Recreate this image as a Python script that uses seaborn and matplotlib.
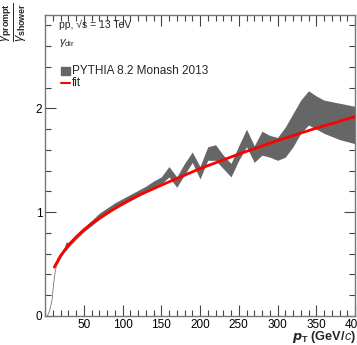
import numpy as np
import pandas as pd
import matplotlib
matplotlib.use("Agg")
import matplotlib.pyplot as plt
import seaborn as sns
from matplotlib.ticker import MultipleLocator, FixedLocator
from matplotlib.patches import Rectangle
from matplotlib.lines import Line2D

# ---- data ----
band_pt = [15, 20, 25, 27, 30, 40, 50, 60, 70, 80, 90, 100, 110, 120, 130, 140, 150,
           160, 170, 180, 190, 200, 210, 220, 230, 240, 250, 260, 270, 280, 290,
           300, 310, 320, 330, 340, 350, 360, 380, 400]
band_low = [0.49, 0.56, 0.62, 0.63, 0.66, 0.74, 0.81, 0.87, 0.93, 0.98, 1.03, 1.07, 1.11,
            1.15, 1.19, 1.23, 1.27, 1.34, 1.24, 1.36, 1.48, 1.32, 1.50, 1.50, 1.42, 1.34,
            1.50, 1.63, 1.48, 1.55, 1.53, 1.50, 1.53, 1.63, 1.76, 1.84, 1.80, 1.76, 1.70, 1.66]
band_high = [0.52, 0.60, 0.66, 0.71, 0.71, 0.78, 0.85, 0.92, 0.99, 1.04, 1.09, 1.13, 1.17,
             1.21, 1.25, 1.30, 1.34, 1.44, 1.34, 1.47, 1.58, 1.44, 1.63, 1.65, 1.55, 1.47,
             1.64, 1.80, 1.64, 1.78, 1.74, 1.72, 1.82, 1.95, 2.08, 2.17, 2.12, 2.08, 2.05, 2.02]

low_pt = [3, 6, 9, 11, 13, 15]
low_val = [0.0, 0.05, 0.15, 0.30, 0.42, 0.49]

fit_pt = [12, 20, 30, 40, 50, 60, 70, 80, 100, 120, 150, 200, 250, 300, 350, 400]
fit_val = [0.47, 0.58, 0.68, 0.76, 0.83, 0.89, 0.94, 0.99, 1.08, 1.16, 1.26, 1.42,
           1.56, 1.69, 1.81, 1.92]

x_ticks = [50, 100, 150, 200, 250, 300, 350, 400]
y_ticks = [0, 1, 2]

sns.set_style("ticks")
plt.rcParams['font.family'] = ['Liberation Sans', 'DejaVu Sans']
plt.rcParams['mathtext.fontset'] = 'custom'
plt.rcParams['mathtext.rm'] = 'Liberation Sans'
plt.rcParams['mathtext.it'] = 'Liberation Sans:italic'
plt.rcParams['mathtext.bf'] = 'Liberation Sans:bold'

W, H = 357, 345
fig = plt.figure(figsize=(W / 100, H / 100), dpi=100)
ax = fig.add_axes([45 / W, (H - 316) / H, 310 / W, 301 / H])

band_color = '#666666'
ax.fill_between(band_pt, band_low, band_high, color=band_color, lw=0, zorder=2)

df_low = pd.DataFrame({'pt': low_pt, 'v': low_val})
sns.lineplot(data=df_low, x='pt', y='v', ax=ax, color='#777777', lw=0.6, zorder=2)
df_fit = pd.DataFrame({'pt': fit_pt, 'v': fit_val})
sns.lineplot(data=df_fit, x='pt', y='v', ax=ax, color='#ff0000', lw=2.0, zorder=3)

ax.set_xlim(0, 400)
ax.set_ylim(0, 2.9)
ax.set_xlabel('')
ax.set_ylabel('')

ax.xaxis.set_major_locator(FixedLocator(x_ticks))
ax.xaxis.set_minor_locator(MultipleLocator(10))
ax.yaxis.set_major_locator(FixedLocator(y_ticks))
ax.yaxis.set_minor_locator(MultipleLocator(0.2))
ax.set_xticklabels([str(v) for v in x_ticks])
ax.set_yticklabels([str(v) for v in y_ticks])

tick_col = '#444444'
ax.tick_params(which='both', direction='in', top=True, right=True, colors=tick_col,
               labelcolor='black', labelsize=8.5, width=0.8)
ax.tick_params(which='major', length=8, pad=2)
ax.tick_params(which='minor', length=4)
for s in ax.spines.values():
    s.set_color('#777777')
    s.set_linewidth(1.0)

# labels
fig.text(356 / W, 1 - 337 / H, r'$\boldsymbol{p}_{\mathbf{T}}$ (GeV/$\it{c}$)', ha='right',
         va='center', fontsize=9.2, fontweight='bold')
fig.text(14 / W, 1 - 2 / H, r'$\frac{\gamma_{\mathbf{prompt}}}{\gamma_{\mathbf{shower}}}$',
         rotation=90, ha='center', va='top', fontsize=13)

fig.text(59 / W, 1 - 25 / H, 'pp, \u221As = 13 TeV', ha='left', va='center', fontsize=7.5)
fig.text(59 / W, 1 - 43 / H, r'$\gamma_{\rm dir}$', ha='left', va='center', fontsize=8)

# legend (manual)
fig.patches.append(Rectangle((61 / W, 1 - 75 / H), 9 / W, 8 / H, transform=fig.transFigure,
                             color=band_color, figure=fig))
fig.text(72 / W, 1 - 71 / H, 'PYTHIA 8.2 Monash 2013', ha='left', va='center', fontsize=8.5)
fig.lines.append(Line2D([61 / W, 70 / W], [1 - 83 / H, 1 - 83 / H], transform=fig.transFigure,
                        color='#ff0000', lw=1.5, figure=fig))
fig.text(72 / W, 1 - 83 / H, 'fit', ha='left', va='center', fontsize=8.5)

fig.savefig('out.png', dpi=100)
